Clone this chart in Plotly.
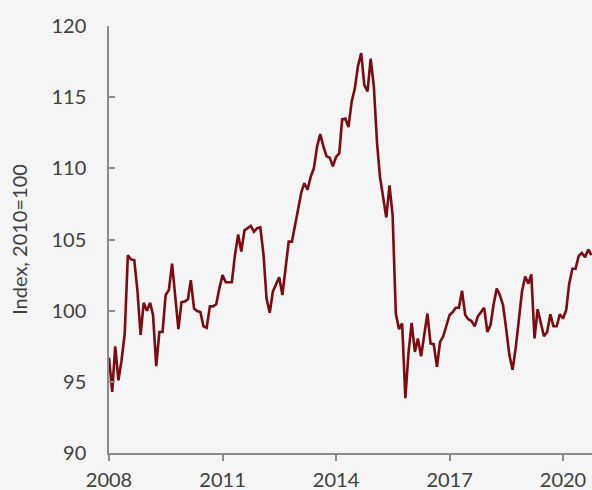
import plotly.graph_objects as go
import pandas as pd

start_month = "2008-01-01"
values = [
    # 2008
    96.7, 94.3, 97.5, 95.1, 96.5, 98.4, 103.9, 103.6, 103.55, 101.45, 98.3, 100.55,
    # 2009
    100.0, 100.55, 99.7, 96.1, 98.5, 98.5, 101.1, 101.45, 103.3, 100.9, 98.7, 100.6,
    # 2010
    100.65, 100.8, 102.15, 100.15, 99.97, 99.9, 98.9, 98.8, 100.3, 100.3, 100.45, 101.55,
    # 2011
    102.5, 102.0, 102.0, 102.0, 103.9, 105.35, 104.15, 105.65, 105.8, 105.95, 105.55, 105.8,
    # 2012
    105.85, 103.9, 100.85, 99.85, 101.35, 101.8, 102.35, 101.1, 102.95, 104.85, 104.85, 106.0,
    # 2013
    107.0, 108.35, 108.95, 108.5, 109.4, 110.0, 111.5, 112.4, 111.55, 110.85, 110.75, 110.15,
    # 2014
    110.8, 111.05, 113.45, 113.5, 112.9, 114.7, 115.6, 117.2, 118.1, 115.85, 115.4, 117.7,
    # 2015
    115.75, 111.75, 109.4, 107.8, 106.55, 108.8, 106.7, 99.8, 98.7, 99.1, 93.85, 97.0,
    # 2016
    99.15, 97.1, 98.05, 96.8, 98.4, 99.8, 97.7, 97.65, 96.05, 97.8, 98.2, 98.9,
    # 2017
    99.7, 99.9, 100.2, 100.2, 101.4, 99.7, 99.4, 99.27, 98.9, 99.6, 99.9, 100.2,
    # 2018
    98.5, 99.0, 100.4, 101.55, 101.1, 100.4, 98.75, 96.9, 95.85, 97.35, 99.35, 101.35,
    # 2019
    102.4, 101.9, 102.55, 98.05, 100.1, 99.1, 98.2, 98.5, 99.75, 98.9, 98.9, 99.75,
    # 2020
    99.45, 100.05, 101.9, 102.95, 102.95, 103.85, 104.05, 103.75, 104.3, 103.9,
]
dates = pd.date_range(start_month, periods=len(values), freq="MS")

y_title = "Index, 2010=100"
y_ticks = [90, 95, 100, 105, 110, 115, 120]

fig = go.Figure()
fig.add_trace(go.Scatter(
    x=dates, y=values, mode="lines",
    line=dict(color="#7b0c10", width=2.6),
    showlegend=False, hoverinfo="skip",
))

font_color = "#404040"
axis_color = "#8c8c8c"
fig.update_layout(
    width=592, height=490,
    paper_bgcolor="#f5f5f5", plot_bgcolor="#f5f5f5",
    margin=dict(l=109, r=0, t=26, b=37),
    font=dict(family="Lato", size=20, color=font_color),
    xaxis=dict(
        range=["2008-01-01", "2020-10-07"],
        tick0="2008-01-01", dtick="M36", tickformat="%Y",
        showgrid=False, zeroline=False,
        showline=True, linecolor=axis_color, linewidth=1.5,
        ticks="outside", ticklen=6, tickcolor=axis_color, tickwidth=1.5,
        tickfont=dict(size=20, color=font_color),
        ticklabelstandoff=2,
        automargin=False,
    ),
    yaxis=dict(
        range=[90, 120], tickvals=y_ticks,
        showgrid=False, zeroline=False,
        showline=True, linecolor=axis_color, linewidth=1.5,
        ticks="inside", ticklen=6, tickcolor=axis_color, tickwidth=1.5,
        tickfont=dict(size=20, color=font_color),
        ticklabelstandoff=17,
        automargin=False,
        title=dict(text=y_title, font=dict(size=20, color=font_color), standoff=18),
    ),
)

post = ("document.body.style.margin='0';"
        "document.body.style.background='#f5f5f5';"
        "document.body.style.overflow='hidden';")
fig.write_html("out.html", post_script=post, config={"displayModeBar": False})
